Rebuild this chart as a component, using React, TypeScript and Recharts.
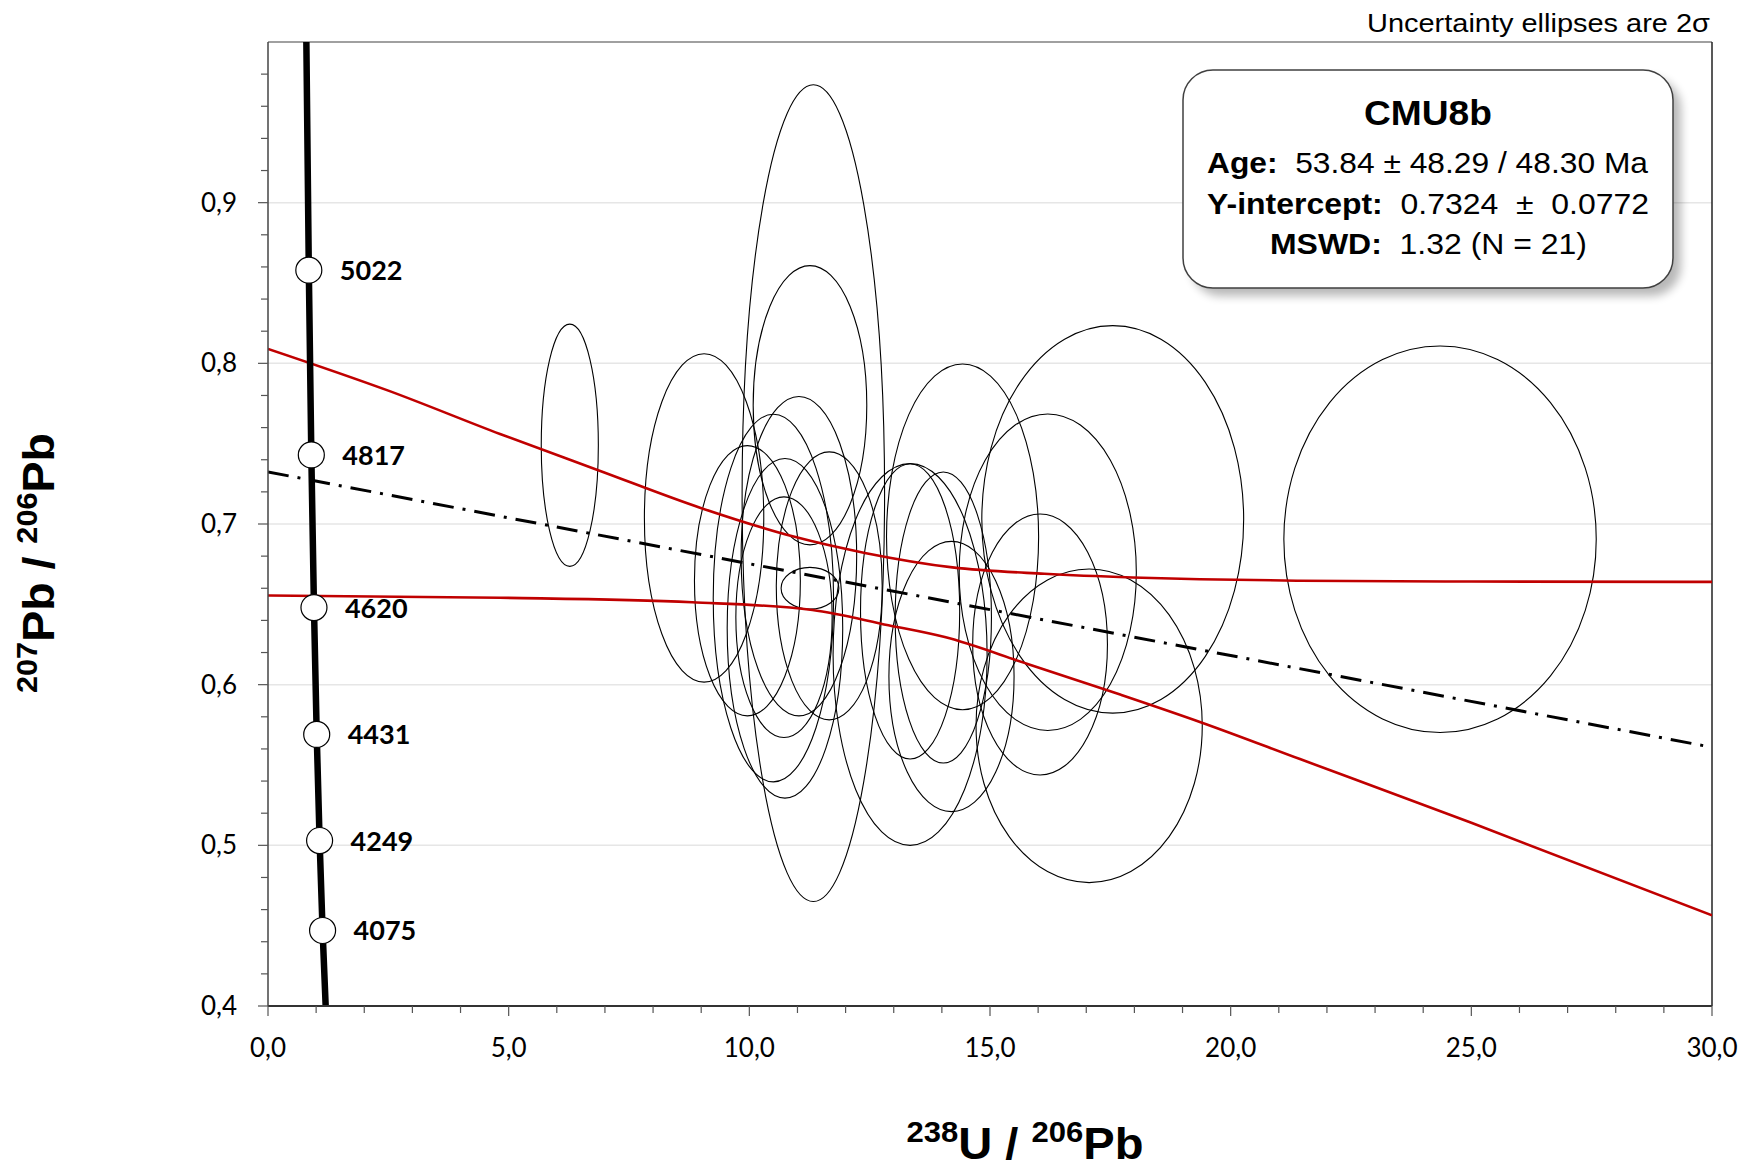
import React from 'react';
import { ComposedChart, Line, Scatter, XAxis, YAxis, CartesianGrid, ReferenceArea, ReferenceLine } from 'recharts';

// axis ticks (minor every 1 / 0.02, labels only on the majors)
const xTicks = [0, 1, 2, 3, 4, 5, 6, 7, 8, 9, 10, 11, 12, 13, 14, 15, 16, 17, 18, 19, 20, 21, 22, 23, 24, 25, 26, 27, 28, 29, 30];
const yTicks = [0.4, 0.42, 0.44, 0.46, 0.48, 0.5, 0.52, 0.54, 0.56, 0.58, 0.6, 0.62, 0.64, 0.66, 0.68, 0.7, 0.72, 0.74, 0.76, 0.78, 0.8, 0.82, 0.84, 0.86, 0.88, 0.9, 0.92, 0.94, 0.96, 0.98];
const gridValues = [0.5, 0.6, 0.7, 0.8, 0.9];

// Tera-Wasserburg concordia
const concordia = [
  { x: 0.797, y: 1.0 },
  { x: 0.848, y: 0.858 },
  { x: 0.9, y: 0.743 },
  { x: 0.955, y: 0.648 },
  { x: 1.012, y: 0.569 },
  { x: 1.072, y: 0.503 },
  { x: 1.134, y: 0.447 },
  { x: 1.198, y: 0.4 },
];

const ageMarks = [
  { x: 0.848, y: 0.858, label: '5022' },
  { x: 0.9, y: 0.743, label: '4817' },
  { x: 0.955, y: 0.648, label: '4620' },
  { x: 1.012, y: 0.569, label: '4431' },
  { x: 1.072, y: 0.503, label: '4249' },
  { x: 1.134, y: 0.447, label: '4075' },
];

// regression line + 2 sigma envelope
const regression = [
  { x: 0, y: 0.7324 },
  { x: 30, y: 0.561 },
];

const upperEnvelope = [
  { x: 0, y: 0.809 }, { x: 2.5, y: 0.783 }, { x: 4.82, y: 0.756 }, { x: 6.86, y: 0.7335 },
  { x: 8.99, y: 0.71 }, { x: 10.94, y: 0.692 }, { x: 12.4, y: 0.682 }, { x: 14.22, y: 0.673 },
  { x: 16.13, y: 0.669 }, { x: 17.96, y: 0.6667 }, { x: 19.36, y: 0.6656 }, { x: 21.44, y: 0.6647 },
  { x: 25, y: 0.6642 }, { x: 30, y: 0.664 },
];

const lowerEnvelope = [
  { x: 0, y: 0.6555 }, { x: 4.82, y: 0.6541 }, { x: 8.81, y: 0.6513 }, { x: 11.31, y: 0.6465 },
  { x: 12.89, y: 0.637 }, { x: 14.06, y: 0.6296 }, { x: 15.73, y: 0.6134 }, { x: 17.72, y: 0.5937 },
  { x: 19.39, y: 0.5765 }, { x: 21.44, y: 0.5537 }, { x: 25, y: 0.514 }, { x: 30, y: 0.4564 },
];

// 2 sigma ellipses: centre and half widths in data units
const ellipseCx = [6.27, 11.33, 11.26, 9.06, 9.96, 10.5, 10.74, 10.72, 11.03, 11.66, 11.26, 13.34, 13.34, 14.43, 14.03, 14.2, 16.2, 16.04, 17.55, 17.06, 24.35];
const ellipseCy = [0.749, 0.7192, 0.7739, 0.7038, 0.6647, 0.6539, 0.6351, 0.642, 0.68, 0.6615, 0.66, 0.6188, 0.6456, 0.692, 0.6418, 0.6051, 0.67, 0.625, 0.7029, 0.5744, 0.6905];
const ellipseRx = [0.593, 1.48, 1.18, 1.24, 1.1, 1.25, 1.2, 1.0, 1.2, 1.1, 0.6, 1.6, 1.03, 1.58, 1.0, 1.3, 1.84, 1.4, 2.72, 2.35, 3.245];
const ellipseRy = [0.0754, 0.2542, 0.0869, 0.1022, 0.0841, 0.1144, 0.1057, 0.0749, 0.0994, 0.0834, 0.013, 0.1188, 0.0919, 0.1076, 0.0906, 0.0841, 0.0985, 0.0812, 0.1206, 0.0976, 0.1203];

const tickFont = 'Lato, "Open Sans", sans-serif';
const arial = '"Liberation Sans", Arial, sans-serif';

const isMajor = (v: number, step: number) => Math.abs(v / step - Math.round(v / step)) < 1e-6;
const fmt = (v: number) => v.toFixed(1).replace('.', ',');

const XTick = (p: any) => {
  const v = p.payload.value;
  const major = isMajor(v, 5);
  return (
    <g>
      <line x1={p.x} x2={p.x} y1={p.y} y2={p.y + (major ? 10 : 7)} stroke="#555" strokeWidth={1.2} />
      {major && (
        <text x={p.x} y={p.y + 51} textAnchor="middle" fontFamily={tickFont} fontSize={26} fill="#000">
          {fmt(v)}
        </text>
      )}
    </g>
  );
};

const YTick = (p: any) => {
  const v = p.payload.value;
  const major = isMajor(v, 0.1);
  return (
    <g>
      <line x1={p.x} x2={p.x - (major ? 10 : 7)} y1={p.y} y2={p.y} stroke="#555" strokeWidth={1.2} />
      {major && (
        <text x={p.x - 31} y={p.y + 9} textAnchor="end" fontFamily={tickFont} fontSize={26} fill="#000">
          {fmt(v)}
        </text>
      )}
    </g>
  );
};

const AgeMark = (p: any) => (
  <g>
    <circle cx={p.cx} cy={p.cy} r={13} fill="#fff" stroke="#000" strokeWidth={1.2} />
    <text x={p.cx + 31} y={p.cy + 10} fontFamily={tickFont} fontWeight={700} fontSize={27} fill="#000">
      {p.payload.label}
    </text>
  </g>
);

const EllipseShape = (p: any) => (
  <ellipse
    cx={p.x + p.width / 2}
    cy={p.y + p.height / 2}
    rx={Math.abs(p.width) / 2}
    ry={Math.abs(p.height) / 2}
    fill="none"
    stroke="#000"
    strokeWidth={1.1}
  />
);

export default function App() {
  return (
    <div style={{ position: 'absolute', left: 0, top: 0, width: 1753, height: 1167, background: '#fff' }}>
      <ComposedChart width={1753} height={1167} margin={{ top: 42, right: 41, bottom: 131, left: 208 }}>
        <CartesianGrid horizontalValues={gridValues} vertical={false} stroke="#e6e6e6" strokeWidth={1.5} />
        <XAxis
          type="number"
          dataKey="x"
          domain={[0, 30]}
          ticks={xTicks}
          interval={0}
          allowDataOverflow
          tick={<XTick />}
          tickLine={false}
          tickSize={0}
          tickMargin={0}
          axisLine={{ stroke: '#333', strokeWidth: 2 }}
          height={30}
        />
        <YAxis
          type="number"
          dataKey="y"
          domain={[0.4, 1.0]}
          ticks={yTicks}
          interval={0}
          allowDataOverflow
          tick={<YTick />}
          tickLine={false}
          tickSize={0}
          tickMargin={0}
          axisLine={{ stroke: '#444', strokeWidth: 1.5 }}
          width={60}
        />
        <ReferenceLine y={1.0} stroke="#808080" strokeWidth={1.5} ifOverflow="visible" />
        <ReferenceLine x={30} stroke="#222" strokeWidth={1.5} ifOverflow="visible" />
        {ellipseCx.map((cx, i) => (
          <ReferenceArea
            key={i}
            x1={cx - ellipseRx[i]}
            x2={cx + ellipseRx[i]}
            y1={ellipseCy[i] - ellipseRy[i]}
            y2={ellipseCy[i] + ellipseRy[i]}
            ifOverflow="visible"
            shape={EllipseShape}
          />
        ))}
        <Line data={upperEnvelope} dataKey="y" type="monotone" stroke="#c00000" strokeWidth={2.6} dot={false} isAnimationActive={false} />
        <Line data={lowerEnvelope} dataKey="y" type="monotone" stroke="#c00000" strokeWidth={2.6} dot={false} isAnimationActive={false} />
        <Line data={regression} dataKey="y" type="linear" stroke="#000" strokeWidth={3} strokeDasharray="21 9 3 9" dot={false} isAnimationActive={false} />
        <Line data={concordia} dataKey="y" type="monotone" stroke="#000" strokeWidth={6.5} dot={false} isAnimationActive={false} />
        <Scatter data={ageMarks} dataKey="y" shape={AgeMark} isAnimationActive={false} />
      </ComposedChart>

      <svg width={1753} height={1167} style={{ position: 'absolute', left: 0, top: 0, pointerEvents: 'none' }}>
        <text x={1710} y={32} textAnchor="end" fontFamily={arial} fontSize={26} textLength={343} lengthAdjust="spacingAndGlyphs">
          Uncertainty ellipses are 2σ
        </text>

        <defs>
          <filter id="blur" x="-10%" y="-10%" width="120%" height="120%">
            <feGaussianBlur stdDeviation={5} />
          </filter>
        </defs>
        <rect x={1191} y={78} width={490} height={218} rx={30} fill="#000" opacity={0.28} filter="url(#blur)" />
        <rect x={1183} y={70} width={490} height={218} rx={30} fill="#fff" stroke="#404040" strokeWidth={1.5} />
        <text x={1428} y={125} textAnchor="middle" fontFamily={arial} fontWeight={700} fontSize={35} textLength={128} lengthAdjust="spacingAndGlyphs">
          CMU8b
        </text>
        <text x={1207} y={173} fontFamily={arial} fontSize={29} textLength={441} lengthAdjust="spacingAndGlyphs" style={{ whiteSpace: 'pre' }}>
          <tspan fontWeight={700}>Age:</tspan>
          <tspan>{'  53.84 ± 48.29 / 48.30 Ma'}</tspan>
        </text>
        <text x={1207} y={214} fontFamily={arial} fontSize={29} textLength={442} lengthAdjust="spacingAndGlyphs" style={{ whiteSpace: 'pre' }}>
          <tspan fontWeight={700}>Y-intercept:</tspan>
          <tspan>{'  0.7324  ±  0.0772'}</tspan>
        </text>
        <text x={1270} y={254} fontFamily={arial} fontSize={29} textLength={317} lengthAdjust="spacingAndGlyphs" style={{ whiteSpace: 'pre' }}>
          <tspan fontWeight={700}>MSWD:</tspan>
          <tspan>{'  1.32 (N = 21)'}</tspan>
        </text>

        <text transform="translate(54,563) rotate(-90)" textAnchor="middle" fontFamily={arial} fontWeight={700} fontSize={44} textLength={260} lengthAdjust="spacingAndGlyphs">
          <tspan fontSize={29} dy={-17}>207</tspan>
          <tspan dy={17}>Pb / </tspan>
          <tspan fontSize={29} dy={-17}>206</tspan>
          <tspan dy={17}>Pb</tspan>
        </text>
        <text x={1025} y={1159} textAnchor="middle" fontFamily={arial} fontWeight={700} fontSize={44} textLength={237} lengthAdjust="spacingAndGlyphs">
          <tspan fontSize={29} dy={-17}>238</tspan>
          <tspan dy={17}>U / </tspan>
          <tspan fontSize={29} dy={-17}>206</tspan>
          <tspan dy={17}>Pb</tspan>
        </text>
      </svg>
    </div>
  );
}
